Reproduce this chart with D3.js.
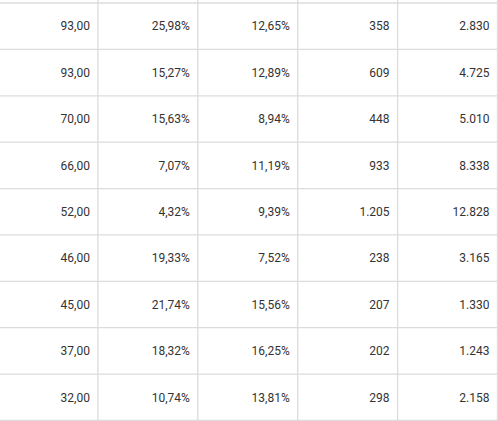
<!DOCTYPE html>
<html>
<head>
<meta charset="utf-8">
<script src="https://cdn.jsdelivr.net/npm/d3@7"></script>
<style>
  body { margin: 0; background: #fff; }
  text { font-family: Roboto, sans-serif; font-size: 12px; fill: #333; }
</style>
</head>
<body>
<svg id="chart" width="498" height="421"></svg>
<script>
var colA = ['93,00', '93,00', '70,00', '66,00', '52,00', '46,00', '45,00', '37,00', '32,00'];
var colB = ['25,98%', '15,27%', '15,63%', '7,07%', '4,32%', '19,33%', '21,74%', '18,32%', '10,74%'];
var colC = ['12,65%', '12,89%', '8,94%', '11,19%', '9,39%', '7,52%', '15,56%', '16,25%', '13,81%'];
var colD = ['358', '609', '448', '933', '1.205', '238', '207', '202', '298'];
var colE = ['2.830', '4.725', '5.010', '8.338', '12.828', '3.165', '1.330', '1.243', '2.158'];

var columns = [colA, colB, colC, colD, colE];
var rowCount = colA.length;

var svg = d3.select('#chart');

// column edges: first column starts off-screen
var x = d3.scaleLinear().domain([0, 5]).range([-2, 497.5]);
var y = d3.scaleLinear().domain([0, rowCount]).range([3, 420.5]);

var grid = svg.append('g').attr('stroke', '#dcdcdc').attr('stroke-width', 1.3);

grid.selectAll('.h').data(d3.range(rowCount + 1)).enter().append('line')
  .attr('x1', 0).attr('x2', 498)
  .attr('y1', function(i) { return y(i); })
  .attr('y2', function(i) { return y(i); });

grid.selectAll('.v').data(d3.range(1, 6)).enter().append('line')
  .attr('x1', function(i) { return x(i); })
  .attr('x2', function(i) { return x(i); })
  .attr('y1', 0).attr('y2', 421);

columns.forEach(function(col, c) {
  svg.append('g').selectAll('text').data(col).enter().append('text')
    .attr('x', x(c + 1) - 8)
    .attr('y', function(d, i) { return (y(i) + y(i + 1)) / 2; })
    .attr('dy', '0.35em')
    .attr('text-anchor', 'end')
    .text(function(d) { return d; });
});
</script>
</body>
</html>
